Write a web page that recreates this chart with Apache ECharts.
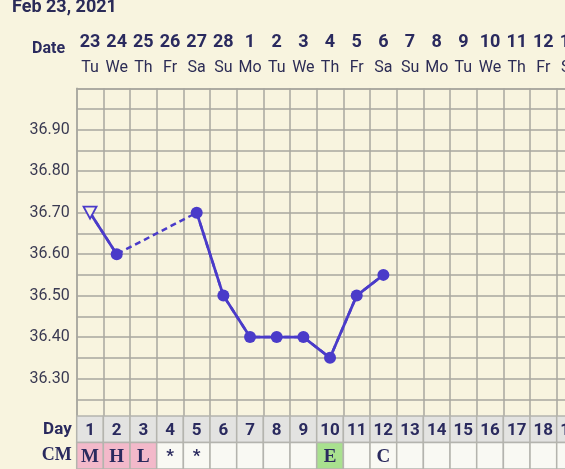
<!DOCTYPE html>
<html>
<head>
<meta charset="utf-8">
<script src="https://cdn.jsdelivr.net/npm/echarts@6/dist/echarts.min.js"></script>
<style>
html,body{margin:0;padding:0;background:#f8f4df;overflow:hidden;}
#chart{width:640px;height:469px;}
</style>
</head>
<body>
<div id="chart"></div>
<script>
const cycleDays = [1,2,3,4,5,6,7,8,9,10,11,12,13,14,15,16,17,18,19,20];
const dateNums = ['23','24','25','26','27','28','1','2','3','4','5','6','7','8','9','10','11','12','13','14'];
const weekDays = ['Tu','We','Th','Fr','Sa','Su','Mo','Tu','We','Th','Fr','Sa','Su','Mo','Tu','We','Th','Fr','Sa','Su'];
const temps = [36.70, 36.60, null, null, 36.70, 36.50, 36.40, 36.40, 36.40, 36.35, 36.50, 36.55, null, null, null, null, null, null, null, null];
const cmCodes = ['M','H','L','*','*','','','','','E','','C','','','','','','','',''];
const cmColorMap = {M:'#f3b9ca', H:'#f3b9ca', L:'#f3b9ca', E:'#a9e18f'};
const title = 'Feb 23, 2021';

const navy = '#2a2a5e';
const gridGray = '#a8a79f';
const lineColor = '#4a3bc9';
const colW = 26.667;
const nCols = cycleDays.length;

const cells = [];
cycleDays.forEach((d, i) => {
  cells.push({value:[i, 1], text: String(d), fill: '#e3e3e1', serif: false});
  const c = cmCodes[i];
  cells.push({value:[i, 0], text: c, fill: cmColorMap[c] || '#f9f9f3', serif: c !== '*'});
});

const tempData = temps.map((t, i) => {
  if (i === 0 && t != null) {
    return {value: t, symbol: 'triangle', symbolRotate: 180, symbolSize: [13, 12],
      itemStyle: {color: '#f8f4df', borderColor: lineColor, borderWidth: 1.8}};
  }
  return t;
});

const chart = echarts.init(document.getElementById('chart'), null, {renderer: 'canvas'});
chart.setOption({
  backgroundColor: '#f8f4df',
  animation: false,
  textStyle: {fontFamily: 'Roboto'},
  graphic: [
    {type: 'text', left: 12, top: -2, style: {text: title, fontWeight: 'bold', fontSize: 18, fontFamily: 'Roboto', fill: '#2b2b58'}},
    {type: 'text', left: 32, top: 41, style: {text: 'Date', fontWeight: 'bold', fontSize: 16, fontFamily: 'Roboto', fill: navy}}
  ],
  grid: [
    {left: 76.7, top: 88.3, width: colW * nCols, height: 331.7, show: false},
    {left: 76.7, top: 416, width: colW * nCols, height: 54, show: false}
  ],
  xAxis: [
    {
      gridIndex: 0, type: 'category', data: cycleDays, position: 'top', boundaryGap: true,
      axisTick: {show: false},
      axisLine: {show: true, lineStyle: {color: gridGray, width: 1.5}},
      splitLine: {show: true, interval: 0, lineStyle: {color: gridGray, width: 1.5}},
      axisLabel: {
        interval: 0, margin: 8,
        formatter: (v, i) => '{d|' + dateNums[i] + '}\n{w|' + weekDays[i] + '}',
        rich: {
          d: {fontWeight: 'bold', fontSize: 18, fontFamily: 'Roboto', color: navy, lineHeight: 25, align: 'center'},
          w: {fontSize: 16, fontFamily: 'Roboto', color: '#2c2c55', lineHeight: 25, align: 'center'}
        }
      }
    },
    {
      gridIndex: 1, type: 'category', data: cycleDays, boundaryGap: true,
      axisTick: {show: false}, axisLine: {show: false}, axisLabel: {show: false}, splitLine: {show: false}
    }
  ],
  yAxis: [
    {
      gridIndex: 0, type: 'value', min: 36.2, max: 37.0, interval: 0.05,
      axisLine: {show: true, lineStyle: {color: gridGray, width: 1.5}},
      axisTick: {show: false},
      splitLine: {show: true, lineStyle: {color: gridGray, width: 1.5}},
      axisLabel: {
        margin: 7, fontSize: 16, fontFamily: 'Roboto', color: '#3a3a52',
        formatter: v => {
          const r = Math.round(v * 100);
          return (r % 10 === 0 && r >= 3630 && r <= 3690) ? (r / 100).toFixed(2) : '';
        }
      }
    },
    {
      gridIndex: 1, type: 'category', data: ['CM', 'Day'],
      axisLine: {show: false}, axisTick: {show: false}, splitLine: {show: false},
      axisLabel: {
        margin: 5,
        formatter: v => v === 'CM' ? '{s|CM}' : '{b|Day}',
        rich: {
          s: {fontWeight: 'bold', fontSize: 18, fontFamily: 'Liberation Serif', color: navy},
          b: {fontWeight: 'bold', fontSize: 17, fontFamily: 'Roboto', color: navy}
        }
      }
    }
  ],
  series: [
    {
      type: 'line', xAxisIndex: 0, yAxisIndex: 0, data: temps, connectNulls: true,
      symbol: 'none', z: 2,
      lineStyle: {color: lineColor, width: 2.5, type: [6, 4]}
    },
    {
      type: 'line', xAxisIndex: 0, yAxisIndex: 0, data: tempData, connectNulls: false,
      symbol: 'circle', symbolSize: 12, z: 3,
      itemStyle: {color: lineColor},
      lineStyle: {color: lineColor, width: 2.8}
    },
    {
      type: 'custom', xAxisIndex: 1, yAxisIndex: 1, z: 4,
      data: cells.map(c => c.value),
      renderItem: (params, api) => {
        const c = cells[params.dataIndex];
        const p = api.coord([api.value(0), api.value(1)]);
        const s = api.size([1, 1]);
        return {
          type: 'group',
          children: [
            {type: 'rect', shape: {x: p[0] - s[0] / 2, y: p[1] - s[1] / 2, width: s[0], height: s[1]},
             style: {fill: c.fill, stroke: '#b4b4ae', lineWidth: 1.5}},
            {type: 'text', x: p[0], y: p[1] + 1,
             style: {text: c.text, align: 'center', verticalAlign: 'middle',
                     fontWeight: 'bold', fontSize: c.serif ? 19 : 17,
                     fontFamily: c.serif ? 'Liberation Serif' : 'Roboto',
                     fill: navy}}
          ]
        };
      }
    }
  ]
});
</script>
</body>
</html>
